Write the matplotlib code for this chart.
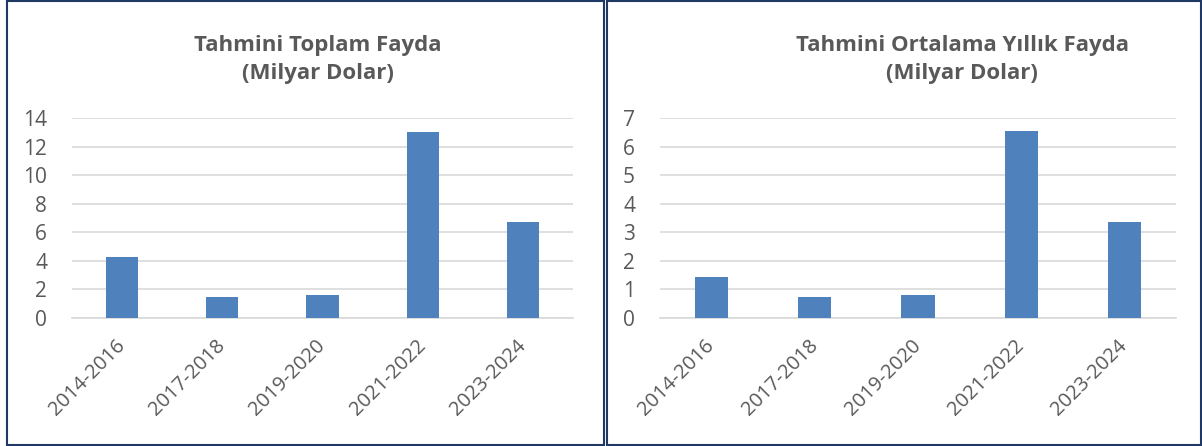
import matplotlib.pyplot as plt
from matplotlib.patches import Rectangle
from matplotlib.transforms import ScaledTranslation

periods = ["2014-2016", "2017-2018", "2019-2020", "2021-2022", "2023-2024"]
total_benefit = [4.3, 1.5, 1.6, 13.05, 6.7]
annual_benefit = [1.42, 0.74, 0.81, 6.53, 3.35]

plt.rcParams['font.family'] = ['Open Sans', 'DejaVu Sans']

W, H = 1202, 446
fig = plt.figure(figsize=(W / 100, H / 100), dpi=100)

bar_color = '#4F81BD'
text_color = '#595959'
grid_color = '#D9D9D9'
frame_color = '#1F3864'


def px_axes(x0, x1, y0, y1):
    # pixel box (top-left origin) -> figure fraction
    return fig.add_axes([x0 / W, 1 - y1 / H, (x1 - x0) / W, (y1 - y0) / H])


def draw(ax, values, ymax, step):
    ax.bar(range(len(periods)), values, width=0.32, color=bar_color, zorder=3)
    ax.set_xlim(-0.5, len(periods) - 0.5)
    ax.set_ylim(0, ymax)
    ax.set_yticks(range(0, ymax + 1, step))
    ax.set_xticks(range(len(periods)))
    ax.set_xticklabels(periods, rotation=45, ha='right')
    ax.yaxis.grid(True, color=grid_color, lw=1.2, zorder=0)
    ax.set_axisbelow(True)
    for s in ['top', 'right', 'left']:
        ax.spines[s].set_visible(False)
    ax.spines['bottom'].set_color(grid_color)
    ax.spines['bottom'].set_linewidth(1.2)
    ax.tick_params(axis='both', length=0, labelsize=15, colors=text_color)
    ax.tick_params(axis='x', labelsize=14.5, pad=13)
    ax.tick_params(axis='y', pad=18)
    shift = ScaledTranslation(7 / 100, 0, fig.dpi_scale_trans)
    for t in ax.get_xticklabels():
        t.set_transform(t.get_transform() + shift)


ax1 = px_axes(72, 573, 118, 318)
draw(ax1, total_benefit, 14, 2)
ax2 = px_axes(660, 1176, 118, 318)
draw(ax2, annual_benefit, 7, 1)

title_kw = dict(ha='center', va='center', fontsize=16, fontweight='bold', color=text_color)
fig.text(318 / W, 1 - 45 / H, "Tahmini Toplam Fayda", **title_kw)
fig.text(318 / W, 1 - 73 / H, "(Milyar Dolar)", **title_kw)
fig.text(962 / W, 1 - 45 / H, "Tahmini Ortalama Yıllık Fayda", **title_kw)
fig.text(962 / W, 1 - 73 / H, "(Milyar Dolar)", **title_kw)

# panel frames
fig.patches.append(Rectangle((7 / W, 1 / H), 597 / W, 444 / H, transform=fig.transFigure,
                             fill=False, edgecolor=frame_color, lw=1.5))
fig.patches.append(Rectangle((607 / W, 1 / H), 594 / W, 444 / H, transform=fig.transFigure,
                             fill=False, edgecolor=frame_color, lw=1.5))

fig.savefig("out.png", dpi=100)
